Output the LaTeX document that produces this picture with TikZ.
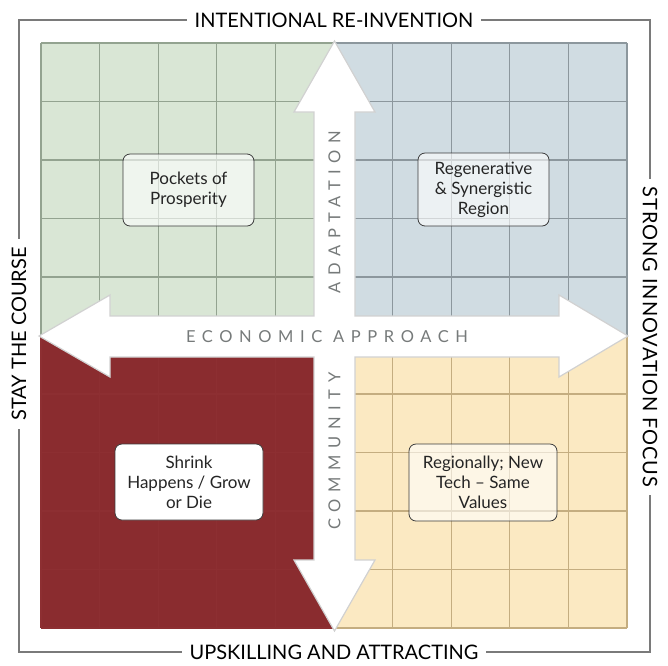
\documentclass[tikz,border=0pt]{standalone}
\usepackage{fontspec}
\setmainfont{Lato}
\definecolor{gfill}{HTML}{D9E6D5}
\definecolor{gline}{HTML}{93A390}
\definecolor{bfill}{HTML}{D0DCE2}
\definecolor{bline}{HTML}{8C979D}
\definecolor{yfill}{HTML}{FBE9C2}
\definecolor{yline}{HTML}{C4AD80}
\definecolor{rfill}{HTML}{8A2C2F}
\definecolor{rline}{HTML}{8D2F32}
\definecolor{framec}{HTML}{7A7A7A}
\definecolor{axisc}{HTML}{767A7A}
\definecolor{txtc}{HTML}{252525}
\begin{document}
\begin{tikzpicture}[x=1pt,y=-1pt,
  outerlabel/.style={fill=white,inner xsep=8pt,inner ysep=2pt,text=black,font=\fontsize{20}{22}\selectfont},
  axislabel/.style={text=axisc,inner sep=0pt,font=\fontsize{16.5}{18}\selectfont\addfontfeature{LetterSpace=40}},
  qbox/.style={draw=txtc!90,line width=0.8pt,rounded corners=7pt,fill=white,text=txtc,
    align=center,inner sep=0pt,font=\fontsize{17}{20}\selectfont},
  glassbox/.style={qbox,fill opacity=0.6,text opacity=1},
  crossshape/.style={fill=white,draw=black!18,line width=1.2pt,line join=miter}
]
\useasboundingbox (0,0) rectangle (668,665);
\fill[white] (0,0) rectangle (668,665);

% quadrants with grids
\foreach \qx/\qy/\fc/\lc in {41/43/gfill/gline, 334/43/bfill/bline, 41/335.5/rfill/rline, 334/335.5/yfill/yline}{
  \fill[\fc] (\qx,\qy) rectangle ++(293,292.5);
  \foreach \k in {0,...,5}{
    \draw[\lc,line width=1.3pt] (\qx+58.6*\k,\qy) -- ++(0,292.5);
    \draw[\lc,line width=1.3pt] (\qx,\qy+58.5*\k) -- ++(293,0);
  }
}

% double-headed cross arrows
\draw[crossshape] (334.5,41) -- (375,112) -- (355,112) -- (355,316) -- (559,316) -- (559,295)
  -- (628,336) -- (559,377) -- (559,357) -- (355,357) -- (355,560) -- (375,560)
  -- (334.5,631) -- (294,560) -- (314,560) -- (314,357) -- (110,357) -- (110,377)
  -- (39,336) -- (110,295) -- (110,316) -- (314,316) -- (314,112) -- (294,112) -- cycle;

% frame
\draw[framec,line width=1.2pt] (19,20) rectangle (650,652);
\node[outerlabel] (top) at (334,20) {INTENTIONAL RE-INVENTION};
\node[outerlabel] (bottom) at (334,652) {UPSKILLING AND ATTRACTING};
\node[outerlabel,rotate=90] (left) at (19,334) {STAY THE COURSE};
\node[outerlabel,rotate=-90,font=\fontsize{20}{22}\selectfont\addfontfeature{LetterSpace=4.5}] (right) at (650,337) {STRONG INNOVATION FOCUS};

% axis labels
\node[axislabel] (econ) at (327,337) {ECONOMIC APPROACH};
\node[axislabel,rotate=90] (adapt) at (334.5,212) {ADAPTATION};
\node[axislabel,rotate=90] (comm) at (334.5,451) {COMMUNITY};

% quadrant boxes
\node[glassbox,minimum width=131pt,minimum height=72pt] (pockets) at (188.5,190) {Pockets of\\Prosperity};
\node[glassbox,minimum width=131pt,minimum height=73pt] (regen) at (483.5,189.5) {Regenerative\\\& Synergistic\\Region};
\node[qbox,minimum width=148pt,minimum height=76pt] (shrink) at (189,482) {Shrink\\Happens / Grow\\or Die};
\node[glassbox,minimum width=148pt,minimum height=77pt] (regional) at (483,482.5) {Regionally; New\\Tech -- Same\\Values};
\end{tikzpicture}
\end{document}
